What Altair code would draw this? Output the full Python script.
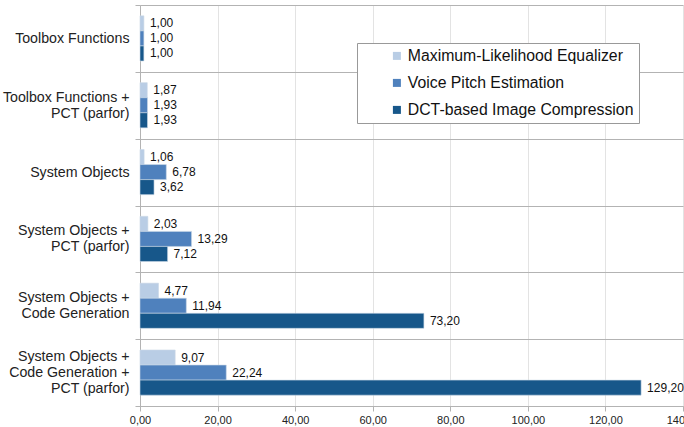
import altair as alt
import pandas as pd

categories = [
    "Toolbox Functions",
    "Toolbox Functions +\nPCT (parfor)",
    "System Objects",
    "System Objects +\nPCT (parfor)",
    "System Objects +\nCode Generation",
    "System Objects +\nCode Generation +\nPCT (parfor)",
]
series = ["Maximum-Likelihood Equalizer", "Voice Pitch Estimation", "DCT-based Image Compression"]
mle = [1.00, 1.87, 1.06, 2.03, 4.77, 9.07]
vpe = [1.00, 1.93, 6.78, 13.29, 11.94, 22.24]
dct = [1.00, 1.93, 3.62, 7.12, 73.20, 129.20]
colors = ["#b9cde5", "#4f81bd", "#17578a"]

rows = []
for s, vals in zip(series, [mle, vpe, dct]):
    for c, v in zip(categories, vals):
        rows.append({"cat": c, "series": s, "value": v,
                     "label": f"{v:.2f}".replace(".", ",")})
df = pd.DataFrame(rows)

font = "Liberation Sans"

base = alt.Chart(df).encode(
    y=alt.Y("cat:N", sort=categories, title=None,
            scale=alt.Scale(paddingInner=0, paddingOuter=0),
            axis=alt.Axis(labelExpr="split(datum.label, '\\n')", tickBand="extent",
                          labelOffset=alt.expr("-(length(split(datum.value, '\\n')) - 1) * 8"),
                          grid=True, gridColor="#b3b3b3", domainColor="#b3b3b3",
                          tickColor="#b3b3b3", tickSize=5, labelFontSize=14.2,
                          labelFont=font, labelColor="#222", labelLineHeight=16,
                          labelPadding=6, labelLimit=200)),
    yOffset=alt.YOffset("series:N", sort=series,
                        scale=alt.Scale(paddingOuter=0.72, paddingInner=0)),
    x=alt.X("value:Q", title=None,
            scale=alt.Scale(domain=[0, 140], nice=False),
            axis=alt.Axis(values=list(range(0, 141, 20)), labelFlush=False,
                          labelExpr="replace(format(datum.value, '.2f'), '.', ',')",
                          grid=True, gridColor="#e3e3e3", domainColor="#b3b3b3",
                          tickColor="#b3b3b3", tickSize=5, labelFontSize=11,
                          labelFont=font, labelColor="#222", labelPadding=3)),
)

bars = base.mark_bar(stroke="#c9d6e6", strokeWidth=0.6).encode(
    color=alt.Color("series:N", sort=series,
                    scale=alt.Scale(domain=series, range=colors),
                    legend=alt.Legend(title=None, orient="none", legendX=217, legendY=38,
                                      labelFont=font, labelFontSize=15.8, labelColor="#111",
                                      symbolType="square", symbolSize=64,
                                      symbolStrokeWidth=0, strokeColor="#999999",
                                      fillColor="white", padding=5, rowPadding=10,
                                      symbolOffset=27, labelOffset=3, labelLimit=400,
                                      labelExpr="datum.label + '\u00a0\u00a0\u00a0\u00a0\u00a0\u00a0\u00a0\u00a0\u00a0'"))
)

text = base.mark_text(align="left", baseline="middle", dx=6, font=font,
                      fontSize=12, color="#111").encode(text="label:N")

chart = (bars + text).properties(
    width=543, height=401,
    autosize=alt.AutoSizeParams(type="none"),
    padding={"left": 140, "top": 5, "right": 1, "bottom": 21},
).configure_view(stroke=None)

chart.save("out.html", embed_options={"renderer": "svg", "actions": False})
